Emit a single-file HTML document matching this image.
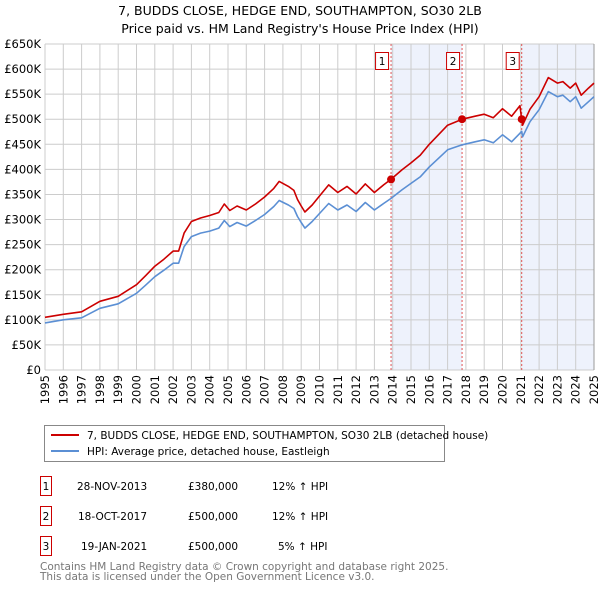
<!DOCTYPE html>
<html><head><meta charset="utf-8"><style>
body{margin:0;background:#fff;font-family:"DejaVu Sans","Liberation Sans",sans-serif;}
svg text{font-family:"DejaVu Sans","Liberation Sans",sans-serif;}
</style></head><body>
<svg id="chart" width="600" height="590" xmlns="http://www.w3.org/2000/svg">
<text x="300" y="15" text-anchor="middle" font-size="12.5">7, BUDDS CLOSE, HEDGE END, SOUTHAMPTON, SO30 2LB</text>
<text x="300" y="33" text-anchor="middle" font-size="12.5">Price paid vs. HM Land Registry's House Price Index (HPI)</text>
<g id="plot"></g>
<g>
<rect x="44.5" y="425.5" width="400" height="36" fill="#fff" stroke="#888"/>
<line x1="51" y1="435" x2="79" y2="435" stroke="#cc0000" stroke-width="2"/>
<text x="87" y="439" font-size="10.5">7, BUDDS CLOSE, HEDGE END, SOUTHAMPTON, SO30 2LB (detached house)</text>
<line x1="51" y1="451" x2="79" y2="451" stroke="#5b8fd4" stroke-width="2"/>
<text x="87" y="455" font-size="10.5">HPI: Average price, detached house, Eastleigh</text>
</g>
<g font-size="10.5">
<rect x="40.5" y="476.5" width="11" height="19" fill="#fff" stroke="#cc0000"/><text x="46" y="490" text-anchor="middle">1</text>
<text x="77" y="490">28-NOV-2013</text><text x="188" y="490">£380,000</text><text x="272" y="490">12% ↑ HPI</text>
<rect x="40.5" y="506.5" width="11" height="19" fill="#fff" stroke="#cc0000"/><text x="46" y="520" text-anchor="middle">2</text>
<text x="78" y="520">18-OCT-2017</text><text x="188" y="520">£500,000</text><text x="272" y="520">12% ↑ HPI</text>
<rect x="40.5" y="536.5" width="11" height="19" fill="#fff" stroke="#cc0000"/><text x="46" y="550" text-anchor="middle">3</text>
<text x="81" y="550">19-JAN-2021</text><text x="188" y="550">£500,000</text><text x="278" y="550">5% ↑ HPI</text>
</g>
<text x="40" y="570" font-size="10.5" fill="#777">Contains HM Land Registry data © Crown copyright and database right 2025.</text>
<text x="40" y="580" font-size="10.5" fill="#777">This data is licensed under the Open Government Licence v3.0.</text>
</svg>
<script>
const dates=[1995,1996,1997,1998,1999,2000,2000.5,2001,2001.5,2002,2002.3,2002.6,2003,2003.5,2004,2004.5,2004.8,2005.1,2005.5,2006,2006.5,2007,2007.5,2007.8,2008.3,2008.6,2008.8,2009,2009.2,2009.6,2010,2010.5,2011,2011.5,2012,2012.5,2013,2013.5,2013.9,2014.5,2015,2015.5,2016,2016.5,2017,2017.8,2018.5,2019,2019.5,2020,2020.5,2020.95,2021.05,2021.1,2021.5,2022,2022.5,2023,2023.3,2023.7,2024,2024.3,2024.7,2025];
const hpiValues=[94,100,104,123,132,153,169,186,199,213,213,246,266,273,277,283,298,286,294,287,298,310,326,338,329,322,306,294,283,296,312,332,319,329,316,334,319,332,342,359,372,385,405,422,439,449,455,459,453,469,455,472,476,465,495,519,555,545,548,535,545,522,535,545];
const priceValues=[105,111,116,137,147,170,188,207,221,237,237,273,296,303,308,314,331,318,327,319,331,345,362,376,366,358,340,327,315,329,347,369,354,366,351,371,354,369,380,399,413,428,450,469,488,500,506,510,503,521,506,527,500,488,520,545,583,572,575,562,572,548,562,572];
const saleDates=[2013.91,2017.79,2021.05];
const saleValues=[380,500,500];
const saleLabels=["1","2","3"];
const yTicks=[0,50,100,150,200,250,300,350,400,450,500,550,600,650];
const yTickLabels=["£0","£50K","£100K","£150K","£200K","£250K","£300K","£350K","£400K","£450K","£500K","£550K","£600K","£650K"];
const xTicks=[1995,1996,1997,1998,1999,2000,2001,2002,2003,2004,2005,2006,2007,2008,2009,2010,2011,2012,2013,2014,2015,2016,2017,2018,2019,2020,2021,2022,2023,2024,2025];

const L=45,R=594,T=44,B=370;
const xs=d=>L+(d-1995)/30*(R-L);
const ys=v=>B-v/650*(B-T);
const NS="http://www.w3.org/2000/svg";
const g=document.getElementById('plot');
function mk(t,a){const e=document.createElementNS(NS,t);for(const k in a)e.setAttribute(k,a[k]);g.appendChild(e);return e;}
// shaded bands
let b1=mk('rect',{x:xs(saleDates[0]),y:T,width:xs(saleDates[1])-xs(saleDates[0]),height:B-T,fill:'#eef2fc'});


let b2=mk('rect',{x:xs(saleDates[2]),y:T,width:R-xs(saleDates[2]),height:B-T,fill:'#eef2fc'});


// grid
yTicks.forEach((v,i)=>{
  let l=mk('line',{x1:L,x2:R,y1:ys(v),y2:ys(v),stroke:'#ccc','stroke-width':1});
  
  
  let t=mk('text',{x:L-4,y:ys(v)+4,'text-anchor':'end','font-size':'11.5'});
  t.textContent=yTickLabels[i];
  
  
});
xTicks.forEach(d=>{
  let l=mk('line',{x1:xs(d),x2:xs(d),y1:T,y2:B,stroke:'#ccc','stroke-width':1});
  
  
  let t=mk('text',{x:0,y:0,'text-anchor':'end','font-size':'11.5',transform:`translate(${xs(d)+4},${B+5}) rotate(-90)`});
  t.textContent=d;
  
  
});
mk('line',{x1:R,x2:R,y1:T,y2:B,stroke:'#999'});
// sale vlines
saleDates.forEach(d=>{
  let l=mk('line',{x1:xs(d),x2:xs(d),y1:T,y2:B,stroke:'#e05555','stroke-dasharray':'2,2','stroke-width':1});
  
  
});
function path(vals,col,name){
  const d=vals.map((v,i)=>(i?'L':'M')+xs(dates[i]).toFixed(1)+','+ys(v).toFixed(1)).join('');
  let p=mk('path',{d:d,fill:'none',stroke:col,'stroke-width':1.6,'stroke-linejoin':'round'});
  
  
}
path(hpiValues,'#5b8fd4','hpi-line');
path(priceValues,'#cc0000','price-line');
saleDates.forEach((d,i)=>{
  let c=mk('circle',{cx:xs(d),cy:ys(saleValues[i]),r:4,fill:'#cc0000'});
  
  
  let r=mk('rect',{x:xs(d)-15.5,y:52.5,width:13,height:17,fill:'#fff',stroke:'#cc0000'});
  
  
  let t=mk('text',{x:xs(d)-9,y:65,'text-anchor':'middle','font-size':'10.5'});
  t.textContent=saleLabels[i];
  
  
});
</script>
</body></html>
